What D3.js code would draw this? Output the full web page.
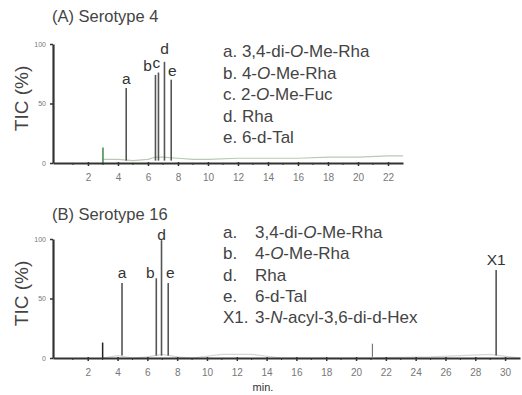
<!DOCTYPE html>
<html>
<head>
<meta charset="utf-8">
<script src="https://cdn.jsdelivr.net/npm/d3@7"></script>
<style>
  body { margin: 0; background: #fff; }
  svg { display: block; font-family: "Liberation Sans", Arial, sans-serif; }
</style>
</head>
<body>
<div id="chart"></div>
<script>
// ---- data ----
// panel A : serotype 4
var peakLabelsA = ["a", "b", "c", "d", "e"];
var peakTimesA = [4.55, 6.5, 6.7, 7.1, 7.55];
var peakHeightsA = [63, 74, 76, 85, 70];
var spikeA = [3.0, 13];
var baseTimesA = [3.0, 4, 5, 6, 6.5, 7, 8, 9, 10, 12, 14, 16, 18, 20, 22, 23];
var baseValsA = [3, 3, 2, 3, 5, 5, 4, 3, 3, 4, 4, 4, 5, 5, 6, 6];
var legendA = [
  ["a. ", "3,4-di-", "O", "-Me-Rha"],
  ["b. ", "4-", "O", "-Me-Rha"],
  ["c. ", "2-", "O", "-Me-Fuc"],
  ["d. ", "Rha", "", ""],
  ["e. ", "6-d-Tal", "", ""]
];

// panel B : serotype 16
var peakLabelsB = ["a", "b", "d", "e", "X1"];
var peakTimesB = [4.3, 6.6, 6.95, 7.4, 29.4];
var peakHeightsB = [63, 67, 99, 63, 74];
var spikeB = [3.0, 13];
var smallPeakB = [21.1, 12];
var baseTimesB = [3.0, 4, 5, 6, 7, 8, 9, 11, 13, 15, 20, 25, 29, 31];
var baseValsB = [0, 2, 0, 1, 3, 1, 0, 3, 3, 0, 0, 1, 3, 0];
var legendB = [
  ["a.", "3,4-di-", "O", "-Me-Rha"],
  ["b.", "4-", "O", "-Me-Rha"],
  ["d.", "Rha", "", ""],
  ["e.", "6-d-Tal", "", ""],
  ["X1.", "3-", "N", "-acyl-3,6-di-d-Hex"]
];

var xTicksA = [2, 4, 6, 8, 10, 12, 14, 16, 18, 20, 22];
var xTicksB = [2, 4, 6, 8, 10, 12, 14, 16, 18, 20, 22, 24, 26, 28, 30];
var yTicks = [0, 50, 100];

var W = 522, H = 395;
var ink = "#333";

var svg = d3.select("#chart").append("svg")
  .attr("width", W).attr("height", H);

function panel(opt) {
  var x = d3.scaleLinear().domain(opt.xDomain).range(opt.xRange);
  var y = d3.scaleLinear().domain([0, 100]).range(opt.yRange);
  var g = svg.append("g");

  // title
  g.append("text").attr("x", 52).attr("y", opt.titleY)
    .attr("font-size", 16.5).attr("fill", "#444").text(opt.title);

  // y label
  var ymid = (opt.yRange[0] + opt.yRange[1]) / 2 - 5;
  g.append("text")
    .attr("transform", "translate(28," + ymid + ") rotate(-90)")
    .attr("text-anchor", "middle").attr("font-size", 19).attr("fill", "#444")
    .text("TIC (%)");

  // baseline trace
  var line = d3.line().x(function (d) { return x(d[0]); }).y(function (d) { return y(d[1]); });
  g.append("path")
    .datum(d3.zip(opt.baseTimes, opt.baseVals))
    .attr("d", line)
    .attr("fill", "none").attr("stroke", opt.baseColor).attr("stroke-width", 1.2);

  // spike near 3 min
  g.append("line")
    .attr("x1", x(opt.spike[0])).attr("x2", x(opt.spike[0]))
    .attr("y1", y(0)).attr("y2", y(opt.spike[1]))
    .attr("stroke", opt.spikeColor).attr("stroke-width", 1.5);

  // peaks
  g.selectAll("line.peak").data(d3.zip(opt.peakTimes, opt.peakHeights))
    .enter().append("line").attr("class", "peak")
    .attr("x1", function (d) { return x(d[0]); })
    .attr("x2", function (d) { return x(d[0]); })
    .attr("y1", y(2)).attr("y2", function (d) { return y(d[1]); })
    .attr("stroke", "#555").attr("stroke-width", 1.6);

  // peak labels
  g.selectAll("text.plab").data(opt.peakLabels)
    .enter().append("text").attr("class", "plab")
    .attr("x", function (d, i) { return x(opt.peakTimes[i]) + (opt.labelDx[i] || 0); })
    .attr("y", function (d, i) { return y(opt.peakHeights[i]) - 4 - (opt.labelDy[i] || 0); })
    .attr("text-anchor", "middle").attr("font-size", 15.5).attr("fill", ink)
    .text(function (d) { return d; });

  // axes
  var xAxis = d3.axisBottom(x).tickValues(opt.xTicks).tickSize(3).tickSizeOuter(0);
  var ax = g.append("g").attr("transform", "translate(0," + y(0) + ")").call(xAxis);
  ax.select(".domain").attr("stroke", ink).attr("stroke-width", 2);
  ax.selectAll(".tick line").attr("stroke", ink).attr("stroke-width", 1.5).attr("y1", -1);
  ax.selectAll(".tick text").attr("font-size", 10).attr("fill", "#777").attr("y", 9).attr("dy", "0.9em")
    .attr("font-family", "Liberation Sans, Arial, sans-serif");
  // minor ticks at odd minutes
  g.selectAll("line.mx").data(d3.range(1, opt.xDomain[1], 2))
    .enter().append("line").attr("class", "mx")
    .attr("x1", function (d) { return x(d); }).attr("x2", function (d) { return x(d); })
    .attr("y1", y(0)).attr("y2", y(0) + 2)
    .attr("stroke", ink).attr("stroke-width", 1);

  var yAxis = d3.axisLeft(y).tickValues(yTicks).tickSize(3).tickSizeOuter(0);
  var ay = g.append("g").attr("transform", "translate(" + opt.xRange[0] + ",0)").call(yAxis);
  ay.select(".domain").attr("stroke", ink).attr("stroke-width", 2.2);
  ay.selectAll(".tick line").attr("stroke", ink).attr("stroke-width", 1.5);
  ay.selectAll(".tick text").attr("font-size", 7).attr("fill", "#777").attr("x", -7)
    .attr("font-family", "Liberation Sans, Arial, sans-serif");

  // legend
  var lg = g.selectAll("text.leg").data(opt.legend).enter().append("text")
    .attr("class", "leg")
    .attr("y", function (d, i) { return opt.legendY + i * opt.legendStep; })
    .attr("font-size", 17).attr("fill", "#444");
  lg.append("tspan").attr("x", 223).text(function (d) { return d[0]; });
  lg.each(function (d) {
    var t = d3.select(this).append("tspan").text(d[1]);
    if (opt.legendTextX) t.attr("x", opt.legendTextX);
    if (d[2]) {
      d3.select(this).append("tspan").attr("font-style", "italic").text(d[2]);
      d3.select(this).append("tspan").text(d[3]);
    }
  });
  return { x: x, y: y, g: g };
}

panel({
  title: "(A) Serotype 4", titleY: 22,
  xDomain: [-0.33, 23], xRange: [53, 403], yRange: [163, 44],
  baseTimes: baseTimesA, baseVals: baseValsA, baseColor: "#b9c9b4",
  spike: spikeA, spikeColor: "#3f8a4a",
  peakTimes: peakTimesA, peakHeights: peakHeightsA, peakLabels: peakLabelsA,
  labelDx: [0, -8, -2, 0, 1], labelDy: [0, 0, 1, 4, 0],
  xTicks: xTicksA, legend: legendA, legendY: 57, legendStep: 21.6, legendTextX: null
});

var pB = panel({
  title: "(B) Serotype 16", titleY: 220,
  xDomain: [-0.33, 31], xRange: [53, 520], yRange: [358, 239],
  baseTimes: baseTimesB, baseVals: baseValsB, baseColor: "#d6d6d6",
  spike: spikeB, spikeColor: "#222",
  peakTimes: peakTimesB, peakHeights: peakHeightsB, peakLabels: peakLabelsB,
  labelDx: [0, -6, 0, 2, 0], labelDy: [1, -4, -4, 1, 1],
  xTicks: xTicksB, legend: legendB, legendY: 238, legendStep: 21.3, legendTextX: 255
});

// small bump near 21 min in panel B
pB.g.append("line")
  .attr("x1", pB.x(smallPeakB[0])).attr("x2", pB.x(smallPeakB[0]))
  .attr("y1", pB.y(1)).attr("y2", pB.y(smallPeakB[1]))
  .attr("stroke", "#777").attr("stroke-width", 1.2);

svg.append("text").attr("x", 263).attr("y", 391).attr("text-anchor", "middle")
  .attr("font-size", 11).attr("fill", ink).text("min.");
</script>
</body>
</html>
